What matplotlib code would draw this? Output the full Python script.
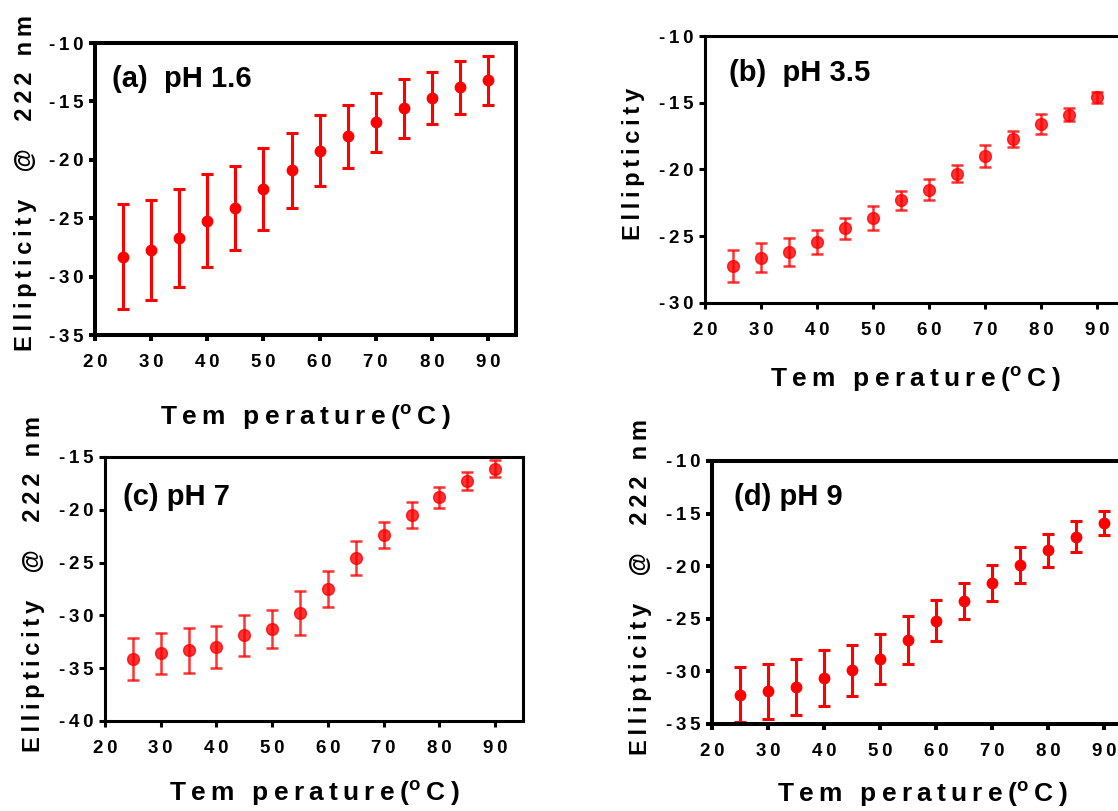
import matplotlib

matplotlib.use("Agg")
import matplotlib.pyplot as plt
from matplotlib.ticker import FixedLocator, FuncFormatter


plt.rcParams["font.family"] = ["Liberation Sans", "DejaVu Sans"]
plt.rcParams["font.weight"] = "bold"
plt.rcParams["axes.unicode_minus"] = False
plt.rcParams["mathtext.fontset"] = "custom"
plt.rcParams["mathtext.bf"] = "Liberation Sans:bold"
plt.rcParams["mathtext.rm"] = "Liberation Sans:bold"

# temperature (deg C) and ellipticity at 222 nm, mean and error
temps = [25, 30, 35, 40, 45, 50, 55, 60, 65, 70, 75, 80, 85, 90]

ph16_mean = [-28.3, -27.7, -26.7, -25.2, -24.1, -22.5, -20.9, -19.2, -18.0, -16.8, -15.6, -14.7, -13.8, -13.2]
ph16_err = [4.5, 4.3, 4.2, 4.0, 3.6, 3.5, 3.2, 3.0, 2.7, 2.55, 2.5, 2.2, 2.25, 2.1]

ph35_mean = [-27.2, -26.6, -26.2, -25.4, -24.4, -23.6, -22.3, -21.5, -20.3, -19.0, -17.7, -16.6, -15.9, -14.6]
ph35_err = [1.2, 1.1, 1.05, 0.9, 0.8, 0.9, 0.7, 0.8, 0.65, 0.8, 0.6, 0.75, 0.5, 0.4]

ph7_mean = [-34.1, -33.6, -33.3, -33.0, -31.9, -31.3, -29.8, -27.5, -24.6, -22.4, -20.5, -18.8, -17.3, -16.1]
ph7_err = [2.0, 1.95, 2.15, 2.0, 1.9, 1.8, 2.1, 1.75, 1.6, 1.25, 1.25, 1.0, 0.85, 0.8]

ph9_mean = [-32.2, -31.9, -31.5, -30.6, -29.9, -28.8, -27.0, -25.2, -23.3, -21.6, -19.9, -18.5, -17.2, -15.9]
ph9_err = [2.65, 2.6, 2.65, 2.65, 2.4, 2.4, 2.3, 1.95, 1.7, 1.7, 1.7, 1.55, 1.5, 1.1]

x_ticks = [20, 30, 40, 50, 60, 70, 80, 90]

TS = "\u2009"  # thin space, used as letter tracking


def track(s):
    return TS.join(s)


XLABEL = track("Tem perature(") + r"$^{\mathbf{o}}$" + TS + track("C)")
YLABEL_FULL = track("Ellipticity  @  222 nm")
YLABEL_SHORT = track("Ellipticity")


def draw_panel(fig, rect, mean, err, ylim, title, title_xy, ylabel,
               lw_spine, style, xlabel_y, ylabel_x):
    ax = fig.add_axes(rect)
    if style == "solid":
        ax.errorbar(temps, mean, yerr=err, fmt="o", color="#ff0000", ms=7.5,
                    elinewidth=2.2, capsize=4.5, capthick=2.2, clip_on=False)
    else:
        ax.errorbar(temps, mean, yerr=err, fmt="o", color="#ff0000", alpha=0.8,
                    ms=8.5, elinewidth=1.8, capsize=4.2, capthick=1.8, clip_on=False)

    ax.set_xlim(20, 95)
    ax.set_ylim(*ylim)
    ax.xaxis.set_major_locator(FixedLocator(x_ticks))
    ax.yaxis.set_major_locator(FixedLocator(list(range(ylim[0], ylim[1] + 1, 5))))
    fmt = FuncFormatter(lambda v, p: track(f"{v:.0f}"))
    ax.xaxis.set_major_formatter(fmt)
    ax.yaxis.set_major_formatter(fmt)

    for sp in ax.spines.values():
        sp.set_linewidth(lw_spine)
    ax.tick_params(direction="out", length=4, width=lw_spine,
                   labelsize=13.5, top=False, right=False)
    ax.tick_params(axis="x", pad=10)
    ax.tick_params(axis="y", pad=4)

    ax.text(title_xy[0], title_xy[1], title, fontsize=21, fontweight="bold",
            ha="left", va="center")

    ax.set_xlabel(XLABEL, fontsize=19, fontweight="bold")
    ax.xaxis.set_label_coords(0.5, xlabel_y)
    ax.xaxis.label.set_verticalalignment("center")
    ax.set_ylabel(ylabel, fontsize=17, fontweight="bold")
    ax.yaxis.set_label_coords(ylabel_x, 0.52)
    ax.yaxis.label.set_verticalalignment("center")
    return ax


def main():
    fig = plt.figure(figsize=(11.18, 8.11), dpi=100)

    draw_panel(fig, [0.0850, 0.5869, 0.3766, 0.3600], ph16_mean, ph16_err, (-35, -10),
               "(a)  pH 1.6", (23.1, -13.1), YLABEL_FULL, 2.9, "solid", -0.281, -0.166)
    draw_panel(fig, [0.6306, 0.6264, 0.3757, 0.3292], ph35_mean, ph35_err, (-30, -10),
               "(b)  pH 3.5", (24.3, -12.8), YLABEL_SHORT, 2.2, "light", -0.285, -0.171)
    draw_panel(fig, [0.0939, 0.1110, 0.3739, 0.3255], ph7_mean, ph7_err, (-40, -15),
               "(c) pH 7", (23.2, -18.8), YLABEL_FULL, 2.2, "light", -0.272, -0.170)
    draw_panel(fig, [0.6369, 0.1073, 0.3757, 0.3243], ph9_mean, ph9_err, (-35, -10),
               "(d) pH 9", (23.9, -13.4), YLABEL_FULL, 2.9, "solid", -0.265, -0.171)

    fig.savefig("out.png", dpi=100)
    plt.close(fig)


if __name__ == "__main__":
    main()
